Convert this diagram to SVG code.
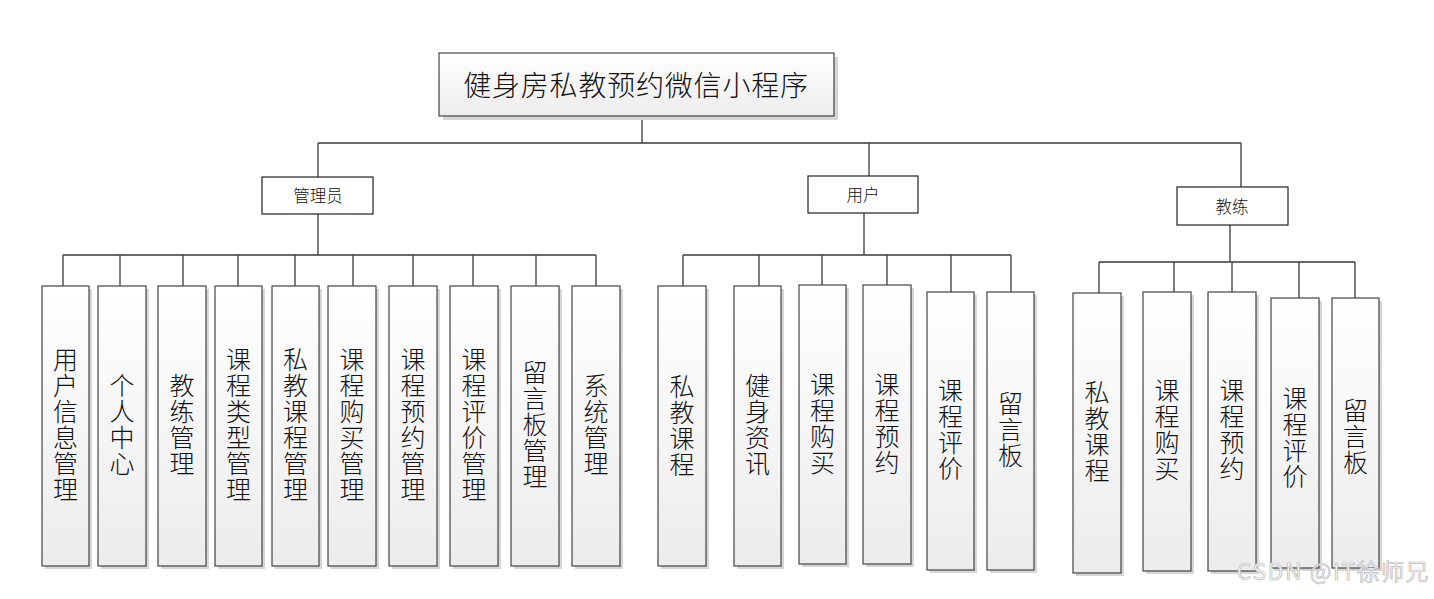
<svg xmlns="http://www.w3.org/2000/svg" width="1434" height="599" viewBox="0 0 1434 599">
<defs>
<linearGradient id="g" x1="0" y1="0" x2="0" y2="1">
<stop offset="0" stop-color="#ffffff"/>
<stop offset="1" stop-color="#ececec"/>
</linearGradient>
<style>
.leaf{fill:url(#g);stroke:#444;stroke-width:1.2}
.shadow{fill:#d6d6d6}
.grp{fill:#ffffff;stroke:#222;stroke-width:1.2}
.t{font-family:"Noto Sans CJK SC","Noto Sans",sans-serif;font-weight:300;fill:#111;text-anchor:middle;dominant-baseline:central}
.lt{font-size:25px;writing-mode:vertical-rl;letter-spacing:1px}
.gt{font-size:16.5px}
.conn{fill:none;stroke:#3a3a3a;stroke-width:1.3}
</style>
</defs>
<rect width="1434" height="599" fill="#ffffff"/>

<g id="connectors" class="conn">
<path d="M642 116V143M318 143H1241M318 143V177M869 143V176M1241 143V187"/>
<path d="M318 214V255M63 255H596M63 255V286M120 255V286M183 255V286M238 255V286M295 255V286M353 255V286M413 255V286M473 255V286M536 255V286M596 255V286"/>
<path d="M864 213V255M683 255H1011M683 255V286M759 255V286M822 255V285M887 255V285M951 255V292M1011 255V292"/>
<path d="M1230 225V262M1099 262H1355M1099 262V293M1174 262V292M1232 262V292M1299 262V298M1355 262V298"/>
</g>

<g id="root">
<rect class="shadow" x="443" y="57" width="395" height="63"/>
<rect class="leaf" x="439" y="53" width="395" height="63"/>
<text class="t" x="636" y="84" style="font-size:28px;letter-spacing:0.8px">健身房私教预约微信小程序</text>
</g>

<g id="admin">
<rect class="grp" x="262" y="177" width="111" height="37"/>
<text class="t gt" x="318" y="195">管理员</text>
</g>
<g id="user">
<rect class="grp" x="808" y="176" width="110" height="37"/>
<text class="t gt" x="863" y="194">用户</text>
</g>
<g id="coach">
<rect class="grp" x="1177" y="187" width="111" height="38"/>
<text class="t gt" x="1232" y="206">教练</text>
</g>

<g id="a1"><rect class="shadow" x="45" y="289" width="47" height="280"/><rect class="leaf" x="42" y="286" width="47" height="280"/><text class="t lt" x="65.5" y="425">用户信息管理</text></g>
<g id="a2"><rect class="shadow" x="101" y="289" width="48" height="280"/><rect class="leaf" x="98" y="286" width="48" height="280"/><text class="t lt" x="122" y="425">个人中心</text></g>
<g id="a3"><rect class="shadow" x="161" y="289" width="48" height="280"/><rect class="leaf" x="158" y="286" width="48" height="280"/><text class="t lt" x="182" y="425">教练管理</text></g>
<g id="a4"><rect class="shadow" x="218" y="289" width="47" height="280"/><rect class="leaf" x="215" y="286" width="47" height="280"/><text class="t lt" x="238.5" y="425">课程类型管理</text></g>
<g id="a5"><rect class="shadow" x="275" y="289" width="47" height="280"/><rect class="leaf" x="272" y="286" width="47" height="280"/><text class="t lt" x="295.5" y="425">私教课程管理</text></g>
<g id="a6"><rect class="shadow" x="331" y="289" width="48" height="280"/><rect class="leaf" x="328" y="286" width="48" height="280"/><text class="t lt" x="352" y="425">课程购买管理</text></g>
<g id="a7"><rect class="shadow" x="392" y="289" width="48" height="280"/><rect class="leaf" x="389" y="286" width="48" height="280"/><text class="t lt" x="413" y="425">课程预约管理</text></g>
<g id="a8"><rect class="shadow" x="453" y="289" width="48" height="280"/><rect class="leaf" x="450" y="286" width="48" height="280"/><text class="t lt" x="474" y="425">课程评价管理</text></g>
<g id="a9"><rect class="shadow" x="514" y="289" width="48" height="280"/><rect class="leaf" x="511" y="286" width="48" height="280"/><text class="t lt" x="535" y="425">留言板管理</text></g>
<g id="a10"><rect class="shadow" x="575" y="289" width="48" height="280"/><rect class="leaf" x="572" y="286" width="48" height="280"/><text class="t lt" x="596" y="425">系统管理</text></g>

<g id="u1"><rect class="shadow" x="661" y="289" width="48" height="280"/><rect class="leaf" x="658" y="286" width="48" height="280"/><text class="t lt" x="682" y="426">私教课程</text></g>
<g id="u2"><rect class="shadow" x="737" y="289" width="47" height="280"/><rect class="leaf" x="734" y="286" width="47" height="280"/><text class="t lt" x="757.5" y="425">健身资讯</text></g>
<g id="u3"><rect class="shadow" x="802" y="288" width="47" height="279"/><rect class="leaf" x="799" y="285" width="47" height="279"/><text class="t lt" x="822.5" y="424">课程购买</text></g>
<g id="u4"><rect class="shadow" x="866" y="288" width="48" height="279"/><rect class="leaf" x="863" y="285" width="48" height="279"/><text class="t lt" x="887" y="424">课程预约</text></g>
<g id="u5"><rect class="shadow" x="930" y="295" width="47" height="278"/><rect class="leaf" x="927" y="292" width="47" height="278"/><text class="t lt" x="950.5" y="430">课程评价</text></g>
<g id="u6"><rect class="shadow" x="990" y="295" width="47" height="278"/><rect class="leaf" x="987" y="292" width="47" height="278"/><text class="t lt" x="1010.5" y="430">留言板</text></g>

<g id="c1"><rect class="shadow" x="1076" y="296" width="48" height="280"/><rect class="leaf" x="1073" y="293" width="48" height="280"/><text class="t lt" x="1097" y="432">私教课程</text></g>
<g id="c2"><rect class="shadow" x="1146" y="295" width="48" height="279"/><rect class="leaf" x="1143" y="292" width="48" height="279"/><text class="t lt" x="1167" y="430">课程购买</text></g>
<g id="c3"><rect class="shadow" x="1211" y="295" width="48" height="279"/><rect class="leaf" x="1208" y="292" width="48" height="279"/><text class="t lt" x="1232" y="430">课程预约</text></g>
<g id="c4"><rect class="shadow" x="1274" y="301" width="48" height="270"/><rect class="leaf" x="1271" y="298" width="48" height="270"/><text class="t lt" x="1295" y="438">课程评价</text></g>
<g id="c5"><rect class="shadow" x="1335" y="301" width="47" height="270"/><rect class="leaf" x="1332" y="298" width="47" height="270"/><text class="t lt" x="1355.5" y="437">留言板</text></g>

<text x="1430" y="580" style="font-family:'Noto Sans CJK SC','Noto Sans',sans-serif;font-size:23px;letter-spacing:1.5px;text-anchor:end;fill:#f4f4f4;stroke:#bdbdbd;stroke-width:0.7">CSDN @IT徐师兄</text>
</svg>
